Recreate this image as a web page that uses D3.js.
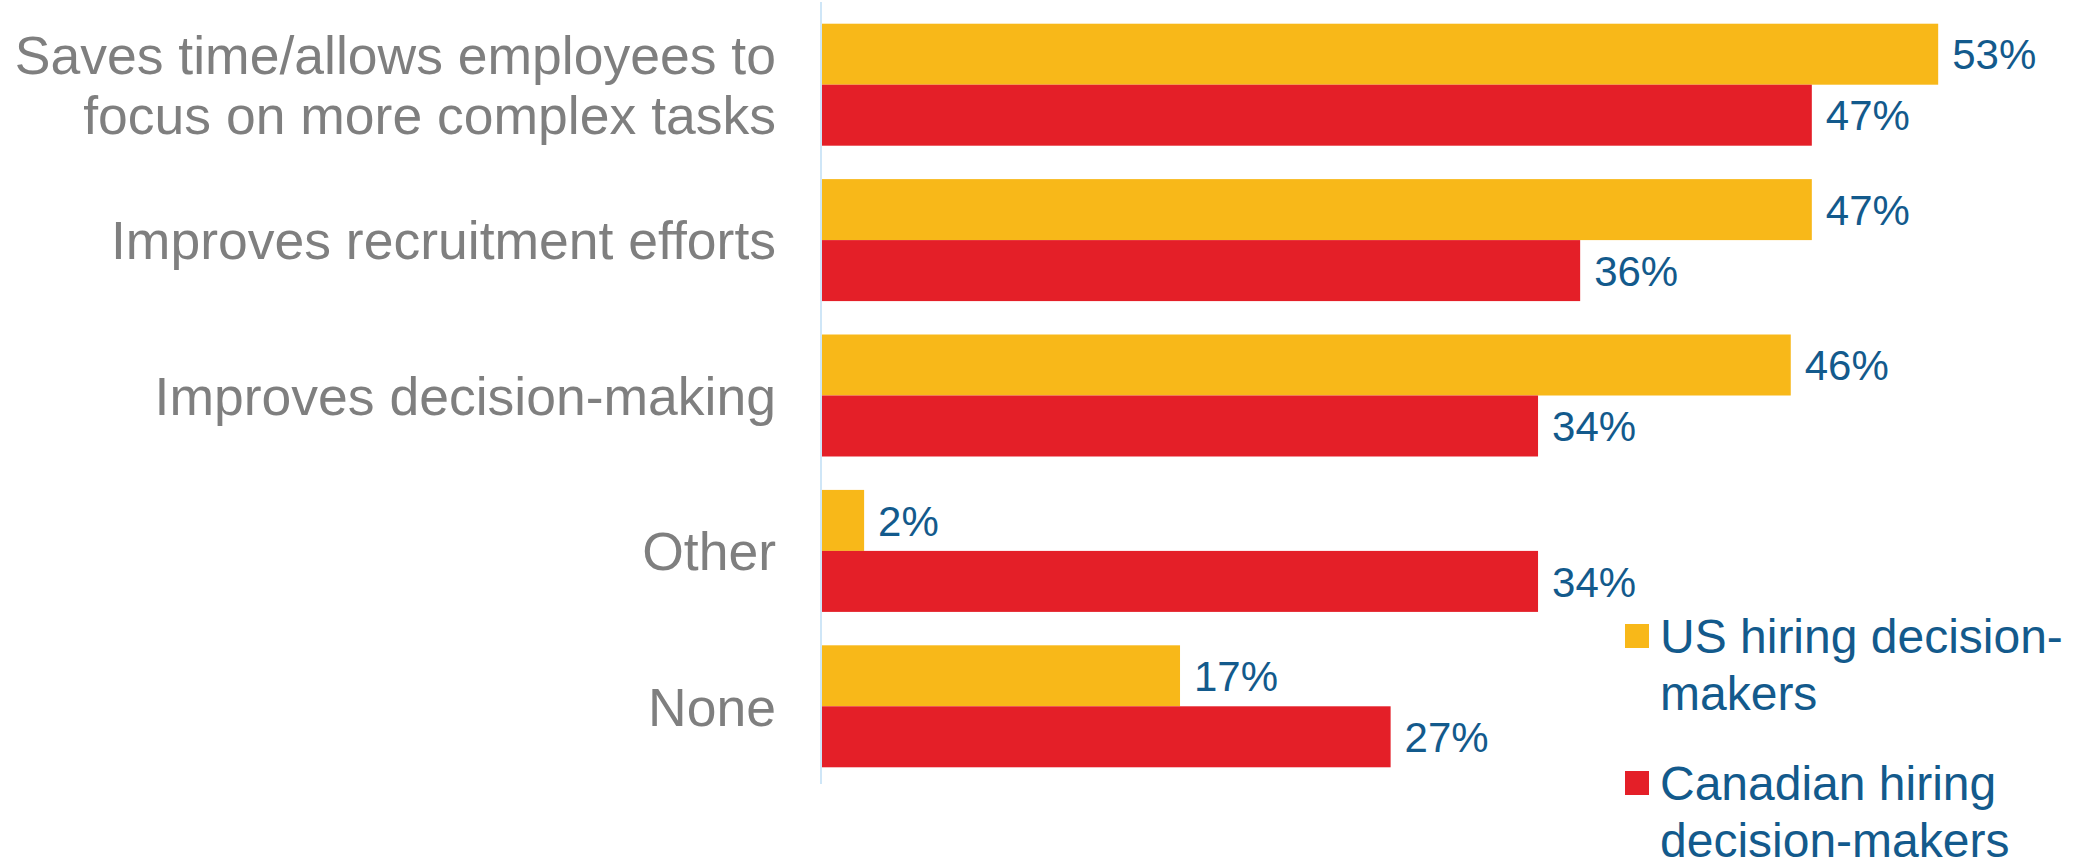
<!DOCTYPE html>
<html>
<head>
<meta charset="utf-8">
<script src="https://cdn.jsdelivr.net/npm/d3@7"></script>
<style>
  html, body { margin: 0; padding: 0; background: #ffffff; }
  svg { display: block; font-family: "Liberation Sans", Arial, sans-serif; }
</style>
</head>
<body>
<svg id="chart" width="2085" height="859"></svg>
<script>
// Benefits of automation, share of hiring decision-makers
const categories = [
  ["Saves time/allows employees to", "focus on more complex tasks"],
  ["Improves recruitment efforts"],
  ["Improves decision-making"],
  ["Other"],
  ["None"]
];
const seriesNames = [
  ["US hiring decision-", "makers"],
  ["Canadian hiring", "decision-makers"]
];
const usValues = [53, 47, 46, 2, 17];
const caValues = [47, 36, 34, 34, 27];
const seriesColors = ["#F8B819", "#E41F28"];

const labelBlue = "#135A8C";
const catGray = "#7F7F7F";

const svg = d3.select("#chart");

const axisX = 822;
const y = d3.scaleBand()
  .domain(d3.range(categories.length))
  .range([7, 784])
  .paddingInner(0.215)
  .paddingOuter(0.1075);

const x = d3.scaleLinear().domain([0, 100]).range([axisX, axisX + 2106]);

const sub = d3.scaleBand().domain([0, 1]).range([0, y.bandwidth()]);

const rows = categories.map((c, i) => ({ i, vals: [usValues[i], caValues[i]] }));

const g = svg.append("g");

// bars with value labels
rows.forEach(r => {
  r.vals.forEach((v, s) => {
    g.append("rect")
      .attr("x", x(0))
      .attr("y", y(r.i) + sub(s))
      .attr("width", x(v) - x(0))
      .attr("height", sub.bandwidth())
      .attr("fill", seriesColors[s]);
    g.append("text")
      .attr("x", x(v) + 14)
      .attr("y", y(r.i) + sub(s) + sub.bandwidth() / 2)
      .attr("dy", "0.36em")
      .attr("font-size", 42)
      .attr("fill", labelBlue)
      .text(v + "%");
  });
});

// vertical axis line
svg.append("line")
  .attr("x1", axisX - 1).attr("x2", axisX - 1)
  .attr("y1", 2).attr("y2", y.range()[1])
  .attr("stroke", "#CFE6F7")
  .attr("stroke-width", 2);

// category labels
categories.forEach((lines, i) => {
  const cy = y(i) + y.bandwidth() / 2;
  const lh = 60;
  const t = svg.append("text")
    .attr("text-anchor", "end")
    .attr("font-size", 53.5)
    .attr("fill", catGray);
  lines.forEach((ln, k) => {
    t.append("tspan")
      .attr("x", 776)
      .attr("y", cy + (k - (lines.length - 1) / 2) * lh)
      .attr("dy", "0.36em")
      .text(ln);
  });
});

// legend
const legendTops = [636, 783];
seriesNames.forEach((lines, s) => {
  const ly = legendTops[s];
  svg.append("rect")
    .attr("x", 1625).attr("y", ly - 12)
    .attr("width", 24).attr("height", 24)
    .attr("fill", seriesColors[s]);
  const t = svg.append("text")
    .attr("font-size", 48)
    .attr("fill", labelBlue);
  lines.forEach((ln, k) => {
    t.append("tspan")
      .attr("x", 1660)
      .attr("y", ly + k * 57)
      .attr("dy", "0.36em")
      .text(ln);
  });
});
</script>
</body>
</html>
